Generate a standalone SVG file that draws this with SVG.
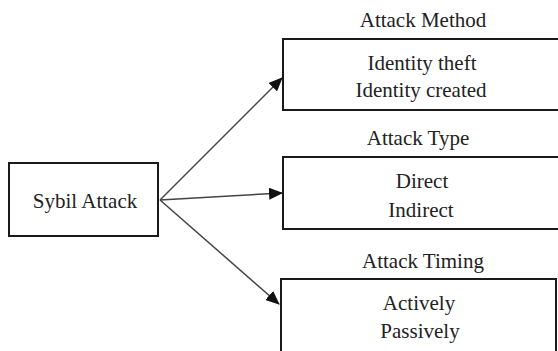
<svg xmlns="http://www.w3.org/2000/svg" width="558" height="351" viewBox="0 0 558 351">
<style>
.box{fill:#fff;stroke:#1a1a1a;stroke-width:2}
.t{font-family:'Liberation Serif','DejaVu Serif',serif;font-size:21px;fill:#222;text-anchor:middle}
.edge{stroke:#444;stroke-width:1.5;fill:none;marker-end:url(#ah)}
</style>
<defs>
<marker id="ah" markerUnits="userSpaceOnUse" markerWidth="14" markerHeight="12" refX="13" refY="6" orient="auto">
<path d="M0,0 L14,6 L0,12 Z" fill="#111"/>
</marker>
</defs>
<rect width="558" height="351" fill="#fff"/>
<g id="connectors">
<line class="edge" x1="160" y1="200" x2="282" y2="78"/>
<line class="edge" x1="160" y1="200" x2="282" y2="193"/>
<line class="edge" x1="160" y1="200" x2="279" y2="304"/>
</g>
<g id="sybil">
<rect class="box" x="9" y="163" width="149" height="73"/>
<text class="t" x="85" y="208">Sybil Attack</text>
</g>
<g id="method">
<text class="t" x="423" y="27">Attack Method</text>
<rect class="box" x="283" y="39" width="290" height="71"/>
<text class="t" x="422" y="70">Identity theft</text>
<text class="t" x="421" y="97">Identity created</text>
</g>
<g id="type">
<text class="t" x="418" y="145">Attack Type</text>
<rect class="box" x="283" y="157" width="290" height="72"/>
<text class="t" x="422" y="188">Direct</text>
<text class="t" x="421" y="217">Indirect</text>
</g>
<g id="timing">
<text class="t" x="423" y="268">Attack Timing</text>
<rect class="box" x="281" y="279" width="275" height="80"/>
<text class="t" x="419" y="310">Actively</text>
<text class="t" x="420" y="338">Passively</text>
</g>
</svg>
